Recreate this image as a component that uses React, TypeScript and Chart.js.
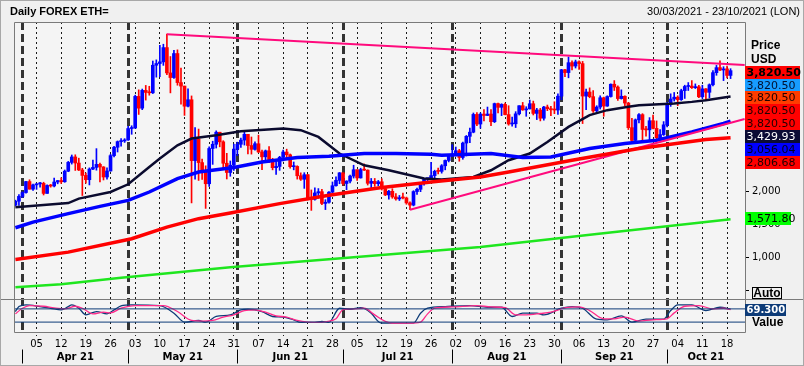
import React, { useEffect, useRef } from 'react';
import { Chart, registerables } from 'chart.js';

Chart.register(...registerables);

// ---- Daily candles, index 0 = 30 Mar 2021 ... index 203 = 19 Oct 2021 ----
const opens = [
  1786, 1846,
  1919, 1977, 2143, 2028, 2093, 2108, 2115, 1964, 2084, 2076, 2136, 2158, 2140, 2300, 2433, 2515, 2423, 2318, 2236, 2171, 2332, 2357, 2403, 2364, 2212, 2303, 2535, 2662, 2747, 2757,
  2773, 2945, 2952, 3431, 3253, 3522, 3491, 3485, 3902, 3928, 3953, 4169, 3786, 3716, 4079, 3640, 3587, 3283, 3380, 2460, 2784, 2430, 2296, 2110, 2643, 2707, 2889, 2744, 2420, 2280, 2390,
  2634, 2707, 2770, 2857, 2688, 2630, 2715, 2591, 2517, 2608, 2472, 2353, 2372, 2510, 2590, 2548, 2368, 2372, 2231, 2178, 2247, 1889, 1875, 1971, 1990, 1812, 1830, 1983, 2080, 2161,
  2275, 2114, 2150, 2226, 2322, 2198, 2324, 2316, 2117, 2146, 2111, 2140, 2036, 1941, 1995, 1911, 1881, 1899, 1895, 1820, 1787, 1992, 2026, 2124, 2187, 2191, 2233, 2298, 2297, 2382, 2462,
  2537, 2557, 2609, 2507, 2725, 2827, 2890, 3158, 3013, 3163, 3142, 3164, 3048, 3322, 3266, 3310, 3156, 3014, 3017, 3167, 3290, 3227, 3242, 3320, 3174, 3225, 3101, 3270, 3245, 3229, 3225,
  3434, 3834, 3791, 3941, 3890, 3953, 3927, 3436, 3497, 3427, 3212, 3270, 3410, 3285, 3429, 3615, 3572, 3398, 3433, 3330, 2958, 2765, 3077, 3155, 2931, 2925, 3063, 2947, 2807, 2853,
  3001, 3307, 3391, 3419, 3382, 3518, 3581, 3587, 3563, 3576, 3425, 3545, 3493, 3607, 3790, 3866, 3830, 3847, 3748,
];
const highs = [
  1862, 1947,
  1989, 2145, 2170, 2105, 2118, 2130, 2133, 2094, 2100, 2196, 2160, 2200, 2318, 2448, 2545, 2548, 2497, 2343, 2272, 2350, 2467, 2641, 2421, 2369, 2350, 2555, 2676, 2757, 2794, 2792,
  2978, 2987, 3449, 3530, 3542, 3597, 3584, 3966, 3983, 4204, 4220, 4372, 4034, 4128, 4135, 3858, 3587, 3545, 3438, 2960, 2937, 2484, 2381, 2668, 2753, 2910, 2889, 2761, 2570, 2454, 2709,
  2739, 2800, 2890, 2857, 2817, 2743, 2845, 2620, 2620, 2672, 2495, 2446, 2525, 2620, 2633, 2560, 2439, 2382, 2275, 2277, 2250, 2016, 2047, 2037, 2025, 1869, 1990, 2137, 2215, 2280,
  2275, 2155, 2240, 2390, 2322, 2345, 2410, 2320, 2190, 2190, 2160, 2185, 2045, 2010, 2035, 1960, 1933, 1970, 1908, 1837, 2005, 2045, 2130, 2190, 2192, 2435, 2315, 2345, 2400, 2470, 2550,
  2700, 2665, 2630, 2740, 2840, 2950, 3180, 3185, 3180, 3230, 3270, 3230, 3330, 3330, 3320, 3330, 3290, 3120, 3200, 3290, 3340, 3275, 3375, 3360, 3250, 3250, 3280, 3300, 3280, 3350, 3470,
  3840, 3840, 4027, 3970, 3980, 3970, 3960, 3540, 3560, 3520, 3290, 3440, 3420, 3440, 3620, 3670, 3590, 3530, 3440, 3340, 3100, 3090, 3170, 3170, 2980, 3110, 3150, 3060, 2930, 3050,
  3340, 3470, 3490, 3440, 3540, 3600, 3640, 3670, 3620, 3600, 3600, 3550, 3620, 3820, 3900, 3970, 3880, 3890, 3850,
];
const lows = [
  1777, 1782,
  1901, 1969, 2028, 2008, 2025, 2060, 1940, 1962, 2058, 2061, 2109, 2114, 2132, 2292, 2407, 2311, 2309, 1932, 2120, 2092, 2323, 2315, 2138, 2167, 2180, 2300, 2516, 2590, 2680, 2735,
  2764, 2858, 2950, 3158, 3230, 3375, 3449, 3474, 3722, 3730, 3900, 3760, 3484, 3701, 3600, 3313, 3144, 3270, 1820, 2178, 2160, 2177, 1737, 2069, 2403, 2650, 2668, 2336, 2182, 2223, 2312,
  2535, 2660, 2695, 2560, 2558, 2616, 2580, 2324, 2451, 2430, 2320, 2250, 2313, 2456, 2497, 2345, 2320, 2180, 2160, 2040, 1866, 1707, 1860, 1890, 1794, 1719, 1815, 1944, 2072, 2110,
  2090, 2020, 2123, 2196, 2160, 2195, 2310, 2090, 2050, 2070, 2080, 2015, 1930, 1876, 1890, 1860, 1856, 1880, 1800, 1718, 1775, 1950, 1990, 2090, 2120, 2180, 2160, 2260, 2270, 2320, 2440,
  2520, 2530, 2450, 2480, 2530, 2730, 2880, 2990, 2950, 3060, 3140, 2990, 3035, 3180, 3140, 3150, 2995, 2980, 2960, 3150, 3220, 3130, 3240, 3150, 3080, 3060, 3070, 3215, 3140, 3170, 3160,
  3380, 3730, 3712, 3830, 3860, 3840, 3020, 3230, 3410, 3190, 3200, 3240, 3130, 3280, 3420, 3520, 3370, 3390, 3290, 2930, 2720, 2740, 3030, 2740, 2830, 2750, 2940, 2790, 2790, 2840,
  2970, 3280, 3360, 3290, 3370, 3400, 3520, 3550, 3550, 3410, 3400, 3380, 3410, 3590, 3750, 3820, 3670, 3710, 3700,
];
const closes = [
  1846, 1919,
  1977, 2143, 2028, 2093, 2108, 2115, 1964, 2084, 2076, 2136, 2158, 2140, 2300, 2433, 2515, 2423, 2318, 2236, 2171, 2332, 2357, 2403, 2364, 2212, 2303, 2535, 2662, 2747, 2757, 2773,
  2945, 2952, 3431, 3253, 3522, 3491, 3485, 3902, 3928, 3953, 4169, 3786, 3716, 4079, 3640, 3587, 3283, 3380, 2460, 2784, 2430, 2296, 2110, 2643, 2707, 2889, 2744, 2420, 2280, 2390, 2634,
  2707, 2770, 2857, 2688, 2630, 2715, 2591, 2517, 2608, 2472, 2353, 2372, 2510, 2590, 2548, 2368, 2372, 2231, 2178, 2247, 1889, 1875, 1971, 1990, 1812, 1830, 1983, 2080, 2161, 2275,
  2114, 2150, 2226, 2322, 2198, 2324, 2316, 2117, 2146, 2111, 2140, 2036, 1941, 1995, 1911, 1881, 1899, 1895, 1820, 1787, 1992, 2026, 2124, 2187, 2191, 2233, 2298, 2297, 2382, 2462, 2537,
  2557, 2609, 2507, 2725, 2827, 2890, 3158, 3013, 3163, 3142, 3164, 3048, 3322, 3266, 3310, 3156, 3014, 3017, 3167, 3290, 3227, 3242, 3320, 3174, 3225, 3101, 3270, 3245, 3229, 3225, 3434,
  3834, 3791, 3941, 3890, 3953, 3927, 3436, 3497, 3427, 3212, 3270, 3410, 3285, 3429, 3615, 3572, 3398, 3433, 3330, 2958, 2765, 3077, 3155, 2931, 2925, 3063, 2947, 2807, 2853, 3001,
  3307, 3391, 3419, 3382, 3518, 3581, 3587, 3563, 3576, 3425, 3545, 3493, 3607, 3790, 3866, 3830, 3847, 3748, 3820.5,
];

// ---- Moving averages (day index, value) ----
const maBlackDays = [0, 15, 18, 27, 32, 38, 41, 46, 50, 57, 64, 76, 81, 86, 92, 99, 106, 116, 121, 130, 135, 140, 146, 151, 157, 163, 168, 174, 177, 187, 192, 196, 203];
const maBlackValues = [1755, 1818, 1885, 1985, 2102, 2364, 2491, 2692, 2794, 2844, 2905, 2945, 2920, 2818, 2567, 2389, 2314, 2188, 2173, 2212, 2314, 2465, 2567, 2742, 2970, 3147, 3223, 3273, 3298, 3324, 3348, 3374, 3429.93];
const maBlueDays = [0, 5, 15, 24, 32, 38, 46, 52, 62, 70, 80, 89, 99, 108, 118, 121, 135, 144, 152, 163, 173, 182, 192, 201, 203];
const maBlueValues = [1445, 1530, 1658, 1768, 1859, 1985, 2188, 2288, 2355, 2439, 2506, 2526, 2567, 2567, 2556, 2541, 2567, 2506, 2515, 2642, 2718, 2768, 2894, 3021, 3056.04];
const maRedDays = [0, 15, 33, 43, 52, 61, 75, 89, 104, 118, 132, 140, 158, 177, 196, 203];
const maRedValues = [965, 1076, 1279, 1455, 1582, 1667, 1809, 1935, 2052, 2136, 2212, 2288, 2465, 2642, 2779, 2806.68];
const maGreenDays = [0, 13, 30, 61, 96, 132, 165, 194, 203];
const maGreenValues = [545, 590, 690, 848, 1000, 1152, 1350, 1521, 1571.8];

// ---- Trend lines ----
const resistanceDays = [43, 207];
const resistanceValues = [4372, 3905];
const supportDays = [112, 207];
const supportValues = [1718, 3090];

// ---- Oscillator panel ----
const rsiDays = [0, 1, 3, 7, 10, 13, 15, 16, 18, 20, 23, 26, 28, 30, 33, 41, 45, 48, 52, 54, 57, 61, 64, 66, 70, 73, 76, 79, 81, 85, 87, 89, 92, 95, 98, 101, 103, 104, 109, 113, 115, 117, 122, 129, 134, 138, 141, 144, 148, 150, 155, 158, 161, 165, 168, 172, 175, 179, 184, 186, 188, 192, 196, 200, 203];
const rsiValues = [62, 77, 82, 77, 72, 67, 77, 82, 72, 52, 62, 55, 67, 79, 82, 80, 57, 30, 35, 30, 47, 52, 67, 69, 62, 47, 45, 37, 29, 29, 32, 29, 72, 69, 74, 57, 32, 27, 27, 27, 57, 72, 77, 80, 75, 75, 47, 57, 57, 52, 72, 77, 72, 39, 37, 49, 30, 39, 39, 65, 82, 82, 65, 75, 69.3];
const signalDays = [0, 2, 4, 8, 11, 14, 17, 19, 22, 25, 27, 30, 34, 42, 46, 50, 53, 56, 59, 62, 65, 68, 71, 74, 77, 80, 83, 86, 88, 91, 93, 96, 99, 102, 105, 107, 112, 115, 117, 119, 124, 131, 135, 139, 142, 145, 149, 152, 156, 160, 163, 167, 170, 173, 177, 181, 185, 187, 190, 194, 198, 201, 203];
const signalValues = [55, 72, 80, 78, 73, 70, 78, 72, 55, 60, 58, 72, 80, 80, 62, 35, 33, 35, 45, 52, 65, 67, 60, 49, 45, 35, 30, 29, 31, 40, 68, 70, 72, 52, 32, 27, 27, 30, 55, 72, 76, 80, 76, 74, 52, 52, 56, 60, 73, 76, 65, 40, 40, 45, 33, 37, 40, 58, 78, 80, 70, 72, 68];
const rsiLevels = [70, 30];

// ---- Axes ----
const X_MIN = -0.4;
const X_MAX = 207.1;
const weekTicks = [6, 13, 20, 27, 34, 41, 48, 55, 62, 69, 76, 83, 90, 97, 104, 111, 118, 125, 132, 139, 146, 153, 160, 167, 174, 181, 188, 195, 202];
const weekLabels = ['05', '12', '19', '26', '03', '10', '17', '24', '31', '07', '14', '21', '28', '05', '12', '19', '26', '02', '09', '16', '23', '30', '06', '13', '20', '27', '04', '11', '18'];
const monthStarts = [2, 32, 63, 93, 124, 155, 185];
const monthMids = [17, 47.5, 78, 108.5, 139.5, 170, 196];
const monthLabels = ['Apr 21', 'May 21', 'Jun 21', 'Jul 21', 'Aug 21', 'Sep 21', 'Oct 21'];
const priceTicks = [500, 1000, 1500, 2000, 2500, 3000, 3500];
const hiddenPriceLabels = [500];
const lastValues = [3820.5, 3820.5, 3820.5, 3820.5, 3820.5, 3429.93, 3056.04, 2806.68];
const greenLast = 1571.8;
const rsiLast = 69.3;

const BLUE = '#0000ff';
const RED = '#ff0000';
const PINK = '#ff0a7c';
const NAVY = '#0d3b78';
const FRAME = '#7a7a7a';

const fmt2 = (v: number) => v.toLocaleString('en-US', { minimumFractionDigits: 2, maximumFractionDigits: 2 });
const pts = (xs: number[], ys: number[]) => xs.map((x, i) => ({ x, y: ys[i] }));

const decor = {
  id: 'decor',
  beforeDraw(chart: any) {
    const { ctx, chartArea: a } = chart;
    ctx.save();
    ctx.fillStyle = '#f0f0f0';
    ctx.fillRect(0, 0, chart.width, chart.height);
    ctx.fillStyle = '#f4f4f4';
    ctx.fillRect(a.left, a.top, a.right - a.left, a.bottom - a.top);
    ctx.restore();
  },
  beforeDatasetsDraw(chart: any) {
    const { ctx, chartArea: a } = chart;
    const xs = chart.scales.x;
    ctx.save();
    ctx.strokeStyle = '#333333';
    ctx.lineWidth = 3;
    ctx.setLineDash([8, 4]);
    monthStarts.forEach((d) => {
      const px = Math.round(xs.getPixelForValue(d)) + 0.5;
      ctx.beginPath();
      ctx.moveTo(px, a.top);
      ctx.lineTo(px, a.bottom);
      ctx.stroke();
    });
    ctx.restore();
  },
  afterDraw(chart: any) {
    const { ctx, chartArea: a } = chart;
    const ys = chart.scales.y;
    const y2s = chart.scales.y2;
    const xs = chart.scales.x;
    ctx.save();
    ctx.setLineDash([]);
    ctx.lineWidth = 1;
    ctx.strokeStyle = FRAME;
    const L = Math.round(a.left) + 0.5;
    const R = Math.round(a.right) + 0.5;
    const T = Math.round(a.top) + 0.5;
    const B = Math.round(a.bottom) + 0.5;
    ctx.beginPath();
    ctx.moveTo(L, T); ctx.lineTo(R, T); ctx.lineTo(R, B); ctx.lineTo(L, B); ctx.closePath();
    ctx.stroke();
    const S = Math.round(ys.bottom) + 0.5;
    ctx.beginPath(); ctx.moveTo(0, S); ctx.lineTo(chart.width, S); ctx.stroke();
    // outer border
    ctx.strokeStyle = '#a8a8a8';
    ctx.strokeRect(0.5, 0.5, chart.width - 1, chart.height - 1);

    // month separators under axis
    ctx.strokeStyle = '#000';
    monthStarts.forEach((d) => {
      const px = Math.round(xs.getPixelForValue(d)) + 0.5;
      ctx.beginPath(); ctx.moveTo(px, B + 17); ctx.lineTo(px, B + 31); ctx.stroke();
    });

    // header texts
    ctx.fillStyle = '#000';
    ctx.textBaseline = 'middle';
    ctx.textAlign = 'left';
    ctx.font = 'bold 11px "Liberation Sans"';
    ctx.fillText('Daily FOREX ETH=', 10, 12);
    ctx.font = '11px "Liberation Sans"';
    ctx.textAlign = 'right';
    ctx.fillText('30/03/2021 - 23/10/2021 (LON)', 800, 12);
    ctx.textAlign = 'left';
    ctx.font = 'bold 12px "Liberation Sans"';
    ctx.fillText('Price', 751, 46);
    ctx.fillText('USD', 751, 60);

    // price label boxes
    const fills = ['#ff0000', '#179cff', '#ff3c00', '#ff0000', '#ff0000', '#0b0b35', '#0000ff', '#ff0000'];
    const inks = ['#000', '#001030', '#200000', '#200000', '#200000', '#ffffff', '#000020', '#200000'];
    const firstTop = ys.getPixelForValue(lastValues[0]) - 5;
    lastValues.forEach((v, i) => {
      const top = Math.round(firstTop + i * 12.9);
      ctx.fillStyle = fills[i];
      ctx.fillRect(R - 0.5, top, 55, 13);
      ctx.fillStyle = inks[i];
      ctx.font = (i === 0 ? 'bold ' : '') + '11px "DejaVu Sans"';
      ctx.fillText(fmt2(v), R + 1, top + 7);
    });
    const gy = Math.round(ys.getPixelForValue(greenLast) - 7.5);
    ctx.fillStyle = '#00ff00';
    ctx.fillRect(R - 0.5, gy, 46, 13);
    ctx.fillStyle = '#000';
    ctx.font = '11px "DejaVu Sans"';
    ctx.fillText(fmt2(greenLast), R + 1, gy + 7);

    // Auto box
    ctx.fillStyle = '#f0f0f0';
    ctx.fillRect(752, 287, 30, 12);
    ctx.strokeStyle = '#000';
    ctx.strokeRect(752.5, 287.5, 29, 11);
    ctx.fillStyle = '#000';
    ctx.font = 'bold 12px "Liberation Sans"';
    ctx.textAlign = 'center';
    ctx.fillText('Auto', 767, 293.5);

    // oscillator value box
    const ry = Math.round(y2s.getPixelForValue(rsiLast) - 5);
    ctx.fillStyle = NAVY;
    ctx.fillRect(R - 0.5, ry, 41, 12);
    ctx.fillStyle = '#fff';
    ctx.textAlign = 'left';
    ctx.font = 'bold 10px "DejaVu Sans"';
    ctx.fillText(rsiLast.toFixed(3), R + 1, ry + 6.5);
    ctx.fillStyle = '#000';
    ctx.font = 'bold 12px "Liberation Sans"';
    ctx.fillText('Value', 752, 323);
    ctx.restore();
  },
};

export default function App() {
  const ref = useRef<HTMLCanvasElement>(null);
  useEffect(() => {
    const canvas = ref.current;
    if (!canvas) return;
    const candleColors = closes.map((c, i) => (c >= opens[i] ? BLUE : RED));
    const wickData = highs.map((h, i) => ({ x: i, y: [lows[i], h] }));
    const bodyData = opens.map((o, i) => ({ x: i, y: [o, closes[i]] }));
    const line = (data: any[], color: string, width: number, extra: any = {}) => ({
      type: 'line', data, borderColor: color, borderWidth: width, pointRadius: 0,
      xAxisID: 'x', yAxisID: 'y', order: 1, tension: 0, fill: false, ...extra,
    });
    const datasets: any[] = [
      { type: 'bar', data: wickData, backgroundColor: candleColors, barThickness: 1, grouped: false, borderWidth: 0, xAxisID: 'x', yAxisID: 'y', order: 11 },
      { type: 'bar', data: bodyData, backgroundColor: candleColors, barThickness: 3, grouped: false, borderWidth: 0, minBarLength: 1, xAxisID: 'x', yAxisID: 'y', order: 10 },
      line(pts(maGreenDays, maGreenValues), '#1ee61e', 2.5),
      line(pts(maRedDays, maRedValues), '#ff0000', 3.5),
      line(pts(supportDays, supportValues), PINK, 2),
      line(pts(resistanceDays, resistanceValues), PINK, 2),
      line(pts(maBlueDays, maBlueValues), '#0000ff', 3.5),
      line(pts(maBlackDays, maBlackValues), '#0a0a2e', 2.5),
      ...rsiLevels.map((lv) => line([{ x: X_MIN, y: lv }, { x: X_MAX, y: lv }], NAVY, 1, { yAxisID: 'y2' })),
      line(pts(signalDays, signalValues), '#ff2a8a', 1.3, { yAxisID: 'y2', cubicInterpolationMode: 'monotone' }),
      line(pts(rsiDays, rsiValues), NAVY, 1.3, { yAxisID: 'y2', cubicInterpolationMode: 'monotone' }),
    ];
    const chart = new Chart(canvas, {
      type: 'line',
      data: { datasets },
      options: {
        responsive: false,
        animation: false,
        events: [],
        layout: { padding: { top: 22, left: 14, right: 0, bottom: 0 } },
        plugins: { legend: { display: false }, tooltip: { enabled: false }, title: { display: false } },
        scales: {
          x: {
            type: 'linear', position: 'bottom', min: X_MIN, max: X_MAX, offset: false, weight: 0,
            afterBuildTicks: (s: any) => { s.ticks = weekTicks.map((v) => ({ value: v })); },
            afterFit: (s: any) => { s.height = 16; },
            ticks: {
              autoSkip: false, maxRotation: 0, padding: 1, color: '#000',
              font: { family: 'DejaVu Sans', size: 10 },
              callback: (_v: any, i: number) => weekLabels[i],
            },
            grid: { offset: false, color: '#1a1a1a', lineWidth: 1, drawOnChartArea: true, drawTicks: true, tickLength: 5, tickColor: '#1a1a1a', tickBorderDash: [1, 2] },
            border: { display: false, dash: [2, 3] },
          },
          x2: {
            type: 'linear', position: 'bottom', min: X_MIN, max: X_MAX, offset: false, weight: 1,
            afterBuildTicks: (s: any) => { s.ticks = monthMids.map((v) => ({ value: v })); },
            afterFit: (s: any) => { s.height = 18; },
            ticks: {
              autoSkip: false, maxRotation: 0, padding: 3, color: '#000',
              font: { family: 'DejaVu Sans', size: 10, weight: 'bold' },
              callback: (_v: any, i: number) => monthLabels[i],
            },
            grid: { display: false, drawTicks: false, tickLength: 0, offset: false },
            border: { display: false },
          },
          y: {
            type: 'linear', position: 'right', stack: 'panels', stackWeight: 277, min: 367, max: 4556,
            afterBuildTicks: (s: any) => { s.ticks = priceTicks.map((v) => ({ value: v })); },
            afterFit: (s: any) => { s.width = 59; },
            ticks: {
              color: '#000', padding: 3, font: { family: 'DejaVu Sans', size: 10 },
              callback: (v: any) => (hiddenPriceLabels.includes(Number(v)) ? '' : Number(v).toLocaleString('en-US')),
            },
            grid: { drawOnChartArea: false, drawTicks: true, tickLength: 4, tickColor: '#000', color: '#000' },
            border: { display: false },
          },
          y2: {
            type: 'linear', position: 'right', stack: 'panels', stackWeight: 33, min: 0, max: 100,
            afterFit: (s: any) => { s.width = 59; },
            ticks: { display: false },
            grid: { display: false, drawTicks: false },
            border: { display: false },
          },
        },
      } as any,
      plugins: [decor],
    } as any);
    return () => chart.destroy();
  }, []);
  return (
    <div style={{ position: 'absolute', left: 0, top: 0, width: 804, height: 366 }}>
      <canvas ref={ref} width={804} height={366} style={{ display: 'block', width: 804, height: 366 }} />
    </div>
  );
}
